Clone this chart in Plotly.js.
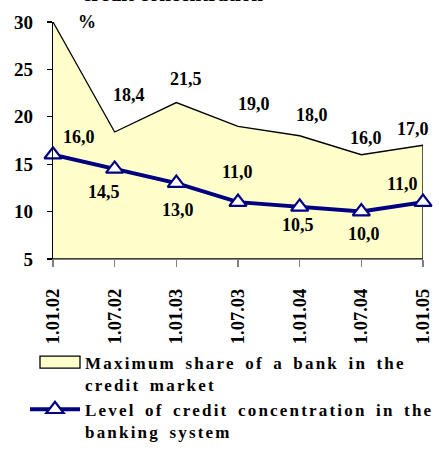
<!DOCTYPE html>
<html>
<head>
<meta charset="utf-8">
<script src="https://cdn.plot.ly/plotly-3.0.1.min.js"></script>
<style>
html,body{margin:0;padding:0;background:#fff;}
#chart{width:439px;height:454px;}
.legendtext{letter-spacing:2.2px;word-spacing:3px;}
</style>
</head>
<body>
<div id="chart"></div>
<script>
// ---- data ----
var dates = ["1.01.02","1.07.02","1.01.03","1.07.03","1.01.04","1.07.04","1.01.05"];
var maxShare = [30.0, 18.4, 21.5, 19.0, 18.0, 16.0, 17.0];
var concentration = [16.0, 14.5, 13.0, 11.0, 10.5, 10.0, 11.0];
var maxShareLabels = ["", "18,4", "21,5", "19,0", "18,0", "16,0", "17,0"];
var concLabels = ["16,0", "14,5", "13,0", "11,0", "10,5", "10,0", "11,0"];
var seriesNames = ["Maximum share of a bank in the<br>credit market",
                   "Level of credit concentration in the<br>banking system"];
var unitLabel = "%";
var titleText = "credit concentration";

var yMin = 5, yMax = 30;
var idx = dates.map(function(_, i){ return i; });

// closed polygon for the area (data + baseline)
var areaX = idx.concat([idx[idx.length-1], idx[0]]);
var areaY = maxShare.concat([yMin, yMin]);

var font = "'Liberation Serif', 'Times New Roman', serif";

var traces = [
  {
    x: areaX, y: areaY, type: "scatter", mode: "lines",
    fill: "toself", fillcolor: "#FFFFCC",
    line: {color: "#000000", width: 1.3},
    name: seriesNames[0], hoverinfo: "skip"
  },
  {
    x: idx, y: concentration, type: "scatter", mode: "lines+markers",
    line: {color: "#000080", width: 4},
    marker: {symbol: "triangle-up", size: 15, color: "#FFFFFF",
             line: {color: "#000080", width: 2.2}},
    name: seriesNames[1], cliponaxis: false
  }
];

// label offsets in pixels (style only)
var maxShift = [[0,0],[14,37],[10,24],[16,22],[12,21],[5,17],[-10,16]];
var concShift = [[26,18],[-11,-23],[2,-27],[-1,30],[-2,-18],[3,-22],[-21,18]];

var labelFont = {family: font, size: 18, color: "#000", weight: "bold"};
var annotations = [];
idx.forEach(function(i){
  if (maxShareLabels[i]) {
    annotations.push({x: i, y: maxShare[i], xref: "x", yref: "y",
      xanchor: "center", yanchor: "middle",
      text: maxShareLabels[i], showarrow: false,
      xshift: maxShift[i][0], yshift: maxShift[i][1], font: labelFont});
  }
  annotations.push({x: i, y: concentration[i], xref: "x", yref: "y",
    xanchor: "center", yanchor: "middle",
    text: concLabels[i], showarrow: false,
    xshift: concShift[i][0], yshift: concShift[i][1], font: labelFont});
});
annotations.push({x: 0.092, y: 1.0, xref: "paper", yref: "paper",
  xanchor: "center", yanchor: "middle",
  text: unitLabel, showarrow: false, font: labelFont});
annotations.push({x: 0.324, y: 1.058, xref: "paper", yref: "paper",
  xanchor: "center", yanchor: "bottom", text: titleText, showarrow: false,
  font: {family: font, size: 21, color: "#000", weight: "bold"}});

var layout = {
  width: 439, height: 454,
  margin: {l: 53, r: 16, t: 22, b: 195, autoexpand: false},
  paper_bgcolor: "#FFFFFF", plot_bgcolor: "#FFFFFF",
  showlegend: true,
  font: {family: font, size: 18, color: "#000", weight: "bold"},
  xaxis: {
    range: [0, 6], tickvals: idx, ticktext: dates, tickangle: -90,
    showgrid: false, zeroline: false,
    showline: true, linecolor: "#808080", linewidth: 1.3,
    ticks: "outside", ticklen: 7, tickcolor: "#808080", tickwidth: 1.3,
    ticklabelstandoff: 14,
    tickfont: {family: font, size: 18.5, color: "#000", weight: "bold"}
  },
  yaxis: {
    range: [yMin, yMax], dtick: 5, tick0: 5,
    showgrid: false, zeroline: false,
    showline: true, linecolor: "#000", linewidth: 1.3,
    ticks: "outside", ticklen: 5, tickcolor: "#000", tickwidth: 1.3,
    ticklabelstandoff: 10,
    tickfont: {family: font, size: 19, color: "#000", weight: "bold"}
  },
  legend: {
    xref: "container", yref: "container",
    x: 25/439, y: 1 - 344.5/454, xanchor: "left", yanchor: "top",
    itemwidth: 50, valign: "top",
    bgcolor: "rgba(0,0,0,0)", tracegroupgap: 3,
    font: {family: font, size: 17, color: "#000", weight: "bold"}
  },
  annotations: annotations
};

Plotly.newPlot("chart", traces, layout, {displayModeBar: false, staticPlot: true}).then(function(gd){
  // make the area legend key a bordered rectangle like the original
  var items = gd.querySelectorAll(".legend .traces");
  if (items.length) {
    var it = items[0];
    var fillP = it.querySelector("path.js-fill");
    var lineP = it.querySelector("path.js-line");
    if (fillP) {
      fillP.setAttribute("d", "M15,-6h40v12h-40z");
      fillP.style.fill = "#FFFFCC";
      fillP.style.stroke = "#000";
      fillP.style.strokeWidth = "1.3px";
    }
    if (lineP) lineP.setAttribute("d", "M0,0");
  }
});
</script>
</body>
</html>
